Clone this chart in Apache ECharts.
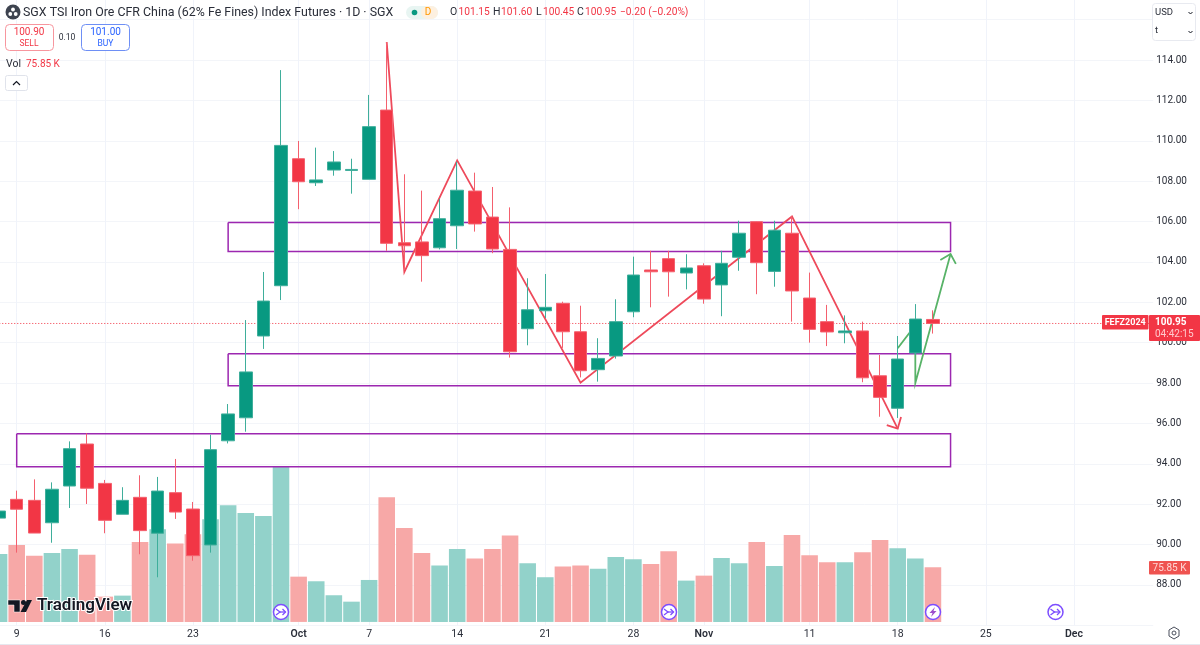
<!DOCTYPE html>
<html><head><meta charset="utf-8">
<style>html,body{margin:0;padding:0;background:#fff}#c{width:1200px;height:645px}</style>
<script src="https://cdn.jsdelivr.net/npm/echarts@6/dist/echarts.min.js"></script>
</head><body><div id="c"></div>
<script>
const categories = ['Sep 6','Sep 9','Sep 10','Sep 11','Sep 12','Sep 13','Sep 16','Sep 17','Sep 18','Sep 19','Sep 20','Sep 23','Sep 24','Sep 25','Sep 26','Sep 27','Sep 30',
'Oct 1','Oct 2','Oct 3','Oct 4','Oct 7','Oct 8','Oct 9','Oct 10','Oct 11','Oct 14','Oct 15','Oct 16','Oct 17','Oct 18','Oct 21','Oct 22','Oct 23','Oct 24','Oct 25','Oct 28','Oct 29','Oct 30','Oct 31',
'Nov 1','Nov 4','Nov 5','Nov 6','Nov 7','Nov 8','Nov 11','Nov 12','Nov 13','Nov 14','Nov 15','Nov 18','Nov 19','Nov 20','Nov 21','Nov 22','Nov 25','Nov 26','Nov 27','Nov 28','Nov 29',
'Dec 2','Dec 3','Dec 4','Dec 5','Dec 6'];
const tickDates = ['Sep 9','Sep 16','Sep 23','Oct 1','Oct 7','Oct 14','Oct 21','Oct 28','Nov 1','Nov 11','Nov 18','Nov 25','Dec 2'];
const tickLabels = ['9','16','23','Oct','7','14','21','28','Nov','11','18','25','Dec'];
const priceTicks = [88,90,92,94,96,98,100,102,104,106,108,110,112,114];

const opens = [91.31,92.24,92.19,91.08,92.90,94.98,93.03,91.50,92.34,90.56,92.57,91.76,89.98,95.14,96.28,100.33,102.82,109.11,107.92,108.55,108.53,108.09,111.52,104.95,104.99,104.70,105.79,107.51,106.22,104.62,100.69,101.58,101.95,100.54,98.66,99.34,101.53,103.60,104.16,103.45,103.81,102.86,104.23,105.99,103.53,105.42,102.21,101.04,100.49,100.58,98.36,96.75,99.49,101.15];
const closes = [91.66,91.75,90.57,92.74,94.75,92.79,91.20,92.19,90.69,92.65,91.61,89.45,94.70,96.47,98.55,102.06,109.77,107.97,108.06,108.95,108.58,110.70,104.92,104.80,104.31,106.14,107.55,105.88,104.64,99.55,101.63,101.75,100.54,98.61,99.22,101.04,103.35,103.51,103.51,103.70,102.16,103.93,105.42,103.96,105.57,102.56,100.66,100.53,100.58,98.26,97.29,99.19,101.17,100.95];
const highs = [91.70,92.67,93.23,93.08,95.11,95.51,93.20,92.84,93.43,93.35,94.24,92.11,95.44,96.96,101.12,103.50,113.50,109.99,109.66,109.49,109.11,112.27,114.89,108.34,107.53,107.12,108.96,108.42,107.71,106.70,103.19,103.40,102.03,101.83,100.22,102.15,104.26,104.55,104.55,104.38,103.93,104.55,106.04,106.00,106.04,106.27,103.47,101.87,101.35,101.04,99.39,100.33,101.91,101.60];
const lows = [91.25,89.60,90.57,90.09,91.81,92.01,90.56,91.50,89.52,88.38,91.27,89.20,89.60,95.01,95.59,99.69,102.11,106.61,107.76,108.27,107.38,108.09,104.55,103.60,103.02,104.62,104.64,105.50,104.43,99.26,99.87,101.22,99.74,98.28,98.07,99.21,101.26,101.75,102.28,102.64,101.93,101.31,103.56,102.40,102.77,101.04,100.00,99.83,99.97,98.04,96.33,96.27,99.39,100.45];
const volumes = [94.3,106.8,91.9,95.7,101.2,93.3,35.1,36.5,110.9,128.5,108.6,121.6,142.4,161.8,151.1,147.0,214.9,62.8,56.4,37.0,28.1,58.2,172.9,130.3,95.7,78.1,101.2,87.8,101.2,119.7,81.4,62.0,76.7,78.1,73.9,90.1,86.9,80.4,98.0,57.3,64.2,88.7,81.4,110.9,77.6,120.6,92.5,82.8,82.8,96.6,113.7,102.2,87.8,75.85];

// Drawings: [bar index counted from Sep 9 = 0, price]
const zoneTop = [[12,105.95],[53,105.95],[53,104.52],[12,104.52],[12,105.95]];
const zoneMid = [[12,99.45],[53,99.45],[53,97.86],[12,97.86],[12,99.45]];
const zoneLow = [[0,95.49],[53,95.49],[53,93.85],[0,93.85],[0,95.49]];
const redWave = [[21,114.89],[22,103.50],[25,109.03],[32,98.02],[44,106.25],[50,95.74]];
const redHead = [[49.38,95.92],[50,95.74],[50.19,96.32]];
const greenWave = [[50,99.72],[51,100.87],[51,98.0],[53,104.39]];
const greenHead = [[52.42,104.09],[53,104.39],[53.3,103.90]];
const lastPrice = 100.95;

const GREEN='#089981', RED='#f23645', FONT='Roboto, sans-serif';
const candleData = opens.map((o,i)=>[o,closes[i],lows[i],highs[i]]);
const isTick = (i,v)=>tickDates.includes(v);

function drawing(data,color,w,z){
  return {type:'line',xAxisIndex:1,yAxisIndex:0,data,showSymbol:false,symbol:'none',silent:true,
    animation:false,z:z||3,clip:true,lineStyle:{color,width:w,join:'miter'}};
}

const T=(text,x,y,font,fill,align)=>({type:'text',z:100,style:{text,x,y,font:font+' '+FONT,fill,textAlign:align||'left',textVerticalAlign:'middle'}});
const R=(x,y,w,h,fill,stroke,r)=>({type:'rect',z:99,shape:{x,y,width:w,height:h,r:r||0},style:{fill:fill||'#fff',stroke:stroke||null,lineWidth:1}});
const PL=(pts,stroke,lw)=>({type:'polyline',z:101,shape:{points:pts},style:{stroke,lineWidth:lw||1.3,fill:null}});

function evIcon(cx,cy,bolt){
  const P='#7c4dff';
  const a=[{type:'circle',z:100,shape:{cx,cy,r:7.5},style:{fill:'#fff',stroke:P,lineWidth:1.5}}];
  if(bolt){a.push({type:'polygon',z:101,shape:{points:[[cx+2,cy-5],[cx-3.5,cy+1],[cx-.5,cy+1],[cx-2,cy+5],[cx+3.5,cy-1],[cx+.5,cy-1]]},style:{fill:'#9c4dcc'}});}
  else{a.push(PL([[cx-5,cy-3],[cx-1,cy],[cx-5,cy+3]],P,1.3));a.push(PL([[cx-2,cy],[cx+4.5,cy]],P,1.3));a.push(PL([[cx+1.5,cy-3],[cx+4.5,cy],[cx+1.5,cy+3]],P,1.3));}
  return a;
}

const graphics=[
 {type:'circle',z:100,shape:{cx:13,cy:12,r:7.5},style:{fill:'#3d434f'}},
 {type:'circle',z:101,shape:{cx:13,cy:9.5,r:1.9},style:{fill:'#fff'}},
 {type:'circle',z:101,shape:{cx:10.3,cy:14,r:1.9},style:{fill:'#fff'}},
 {type:'circle',z:101,shape:{cx:15.7,cy:14,r:1.9},style:{fill:'#fff'}},
 T('SGX TSI Iron Ore CFR China (62% Fe Fines) Index Futures · 1D · SGX',23,12.5,'12.4px','#2a2e39'),
 R(406,6,32,13,'#e8f5f2',null,6.5), R(421,6,17,13,'#fdf0e0',null,6.5),
 {type:'circle',z:101,shape:{cx:414.5,cy:12.5,r:2.8},style:{fill:GREEN}},
 T('D',428,12.5,'10px','#ff9800','center'),
 T('O',450,12.5,'10.5px','#2a2e39'),T('101.15',458.5,12.5,'10.2px',RED),
 T('H',493,12.5,'10.5px','#2a2e39'),T('101.60',501,12.5,'10.2px',RED),
 T('L',536,12.5,'10.5px','#2a2e39'),T('100.45',543,12.5,'10.2px',RED),
 T('C',577,12.5,'10.5px','#2a2e39'),T('100.95',585,12.5,'10.2px',RED),
 T('−0.20 (−0.20%)',620,12.5,'10.2px',RED),
 R(5.5,24.5,48,26,'#fff','#f7969e',4),
 T('100.90',29,32.5,'10px',RED,'center'),T('SELL',29,44,'8.5px',RED,'center'),
 T('0.10',67,38,'8.5px','#2a2e39','center'),
 R(81.5,24.5,48,26,'#fff','#6e8ff5',4),
 T('101.00',105.5,32.5,'10px','#2962ff','center'),T('BUY',105.5,44,'8.5px','#2962ff','center'),
 T('Vol',6,64,'10.5px','#2a2e39'),T('75.85 K',26,64,'10px',RED),
 R(5.5,75.5,22,15,'#fff','#e0e3eb',2),PL([[13,85],[16.5,81.5],[20,85]],'#131722',1.2),
 // watermark logo
 {type:'polygon',z:100,shape:{points:[[8,600],[20,600],[20,612],[14,612],[14,605],[8,605]]},style:{fill:'#131722',stroke:'#fff',lineWidth:.5}},
 {type:'circle',z:100,shape:{cx:23.5,cy:602.5,r:2.5},style:{fill:'#131722'}},
 {type:'polygon',z:100,shape:{points:[[27,600],[32,600],[26,612],[20.5,612]]},style:{fill:'#131722'}},
 {type:'text',z:100,style:{text:'TradingView',x:37,y:606,font:'600 17px '+FONT,fill:'#131722',stroke:'#fff',lineWidth:2,textVerticalAlign:'middle'}},
 ...evIcon(281,612,false),...evIcon(669,612,false),...evIcon(933,612,true),...evIcon(1055.5,612,false),
 // right scale chrome
 R(1152.5,3.5,43,37,'#fff','#e8eaf0',3),
 T('USD',1155,12.5,'9.5px','#2a2e39'),T('t',1155,31,'9.5px','#2a2e39'),
 PL([[1188.5,12],[1190.5,14],[1192.5,12]],'#131722',1),PL([[1188.5,31],[1190.5,33],[1192.5,31]],'#131722',1),
 R(1102,315,46.5,14.5,'#f23645',null,1),T('FEFZ2024',1125.2,322.5,'700 9px','#fff','center'),
 R(1149,315,51,26,'#f23645',null,1),T('100.95',1155,322,'700 10px','#fff'),T('04:42:15',1155,334.5,'10px','#ffc9cc'),
 R(1149,561,41,13.5,'#ef5350',null,1),T('75.85 K',1169.5,568,'10px','#ffd7d5','center'),
 {type:'polygon',z:100,shape:{points:[[1174,627],[1179,630],[1179,636],[1174,639],[1169,636],[1169,630]]},style:{fill:'#fff',stroke:'#4a4f5c',lineWidth:1}},
 {type:'circle',z:101,shape:{cx:1174,cy:633,r:2},style:{fill:'#fff',stroke:'#4a4f5c',lineWidth:1}},
 R(0,644,1200,1,'#e6e8ef')
];

const chart=echarts.init(document.getElementById('c'),null,{renderer:'canvas'});
chart.setOption({
 animation:false,backgroundColor:'#fff',
 grid:{left:-9.73,width:1162.92,top:-0.57,height:625.89,containLabel:false,outerBoundsMode:'none'},
 xAxis:[
  {type:'category',data:categories,boundaryGap:true,gridIndex:0,
   axisLine:{show:false},axisTick:{show:false},
   axisLabel:{interval:isTick,margin:4,fontFamily:FONT,fontSize:10.5,color:'#2a2e39',
     formatter:v=>{const l=tickLabels[tickDates.indexOf(v)]||'';return /[A-Z]/.test(l)?'{m|'+l+'}':l;},
     rich:{m:{fontWeight:600,fontFamily:FONT,fontSize:10.5,color:'#2a2e39'}}},
   splitLine:{show:true,interval:isTick,alignWithLabel:true,lineStyle:{color:'#f0f3fa',width:1}}},
  {type:'value',gridIndex:0,min:-1.5,max:64.5,show:false,splitLine:{show:false}}
 ],
 yAxis:[
  {type:'value',position:'right',min:86,max:117,interval:2,
   axisLine:{show:false},axisTick:{show:false},
   axisLabel:{margin:3,padding:[2,0,0,0],fontFamily:FONT,fontSize:10,color:'#2a2e39',
     formatter:v=>priceTicks.includes(v)?v.toFixed(2):''},
   splitLine:{show:true,lineStyle:{color:'#f3f5f9',width:1}}},
  {type:'value',min:-4.7,max:863.3,show:false,splitLine:{show:false}}
 ],
 series:[
  {type:'bar',name:'Vol',xAxisIndex:0,yAxisIndex:1,barWidth:'94%',z:1,silent:true,
   data:volumes.map((v,i)=>({value:v,itemStyle:{color:closes[i]>=opens[i]?'#92d2ca':'#f7a8a7'}}))},
  drawing(zoneTop,'#9c27b0',1.5),drawing(zoneMid,'#9c27b0',1.5),drawing(zoneLow,'#9c27b0',1.5),
  {type:'line',xAxisIndex:1,yAxisIndex:0,data:[[-1.5,lastPrice],[64.5,lastPrice]],showSymbol:false,symbol:'none',silent:true,z:3,
   lineStyle:{color:RED,width:1,type:[1,2]}},
  drawing(redWave,'#ee4a5b',1.8),drawing(redHead,'#ee4a5b',1.8),
  drawing(greenWave,'#58b368',1.8),drawing(greenHead,'#58b368',1.8),
  {type:'candlestick',name:'Price',xAxisIndex:0,yAxisIndex:0,data:candleData,barWidth:13,z:5,silent:true,
   itemStyle:{color:GREEN,color0:RED,borderColor:'#3fae9b',borderColor0:'#f4606e',borderWidth:1}}
 ],
 graphic:{elements:graphics}
});
</script></body></html>
